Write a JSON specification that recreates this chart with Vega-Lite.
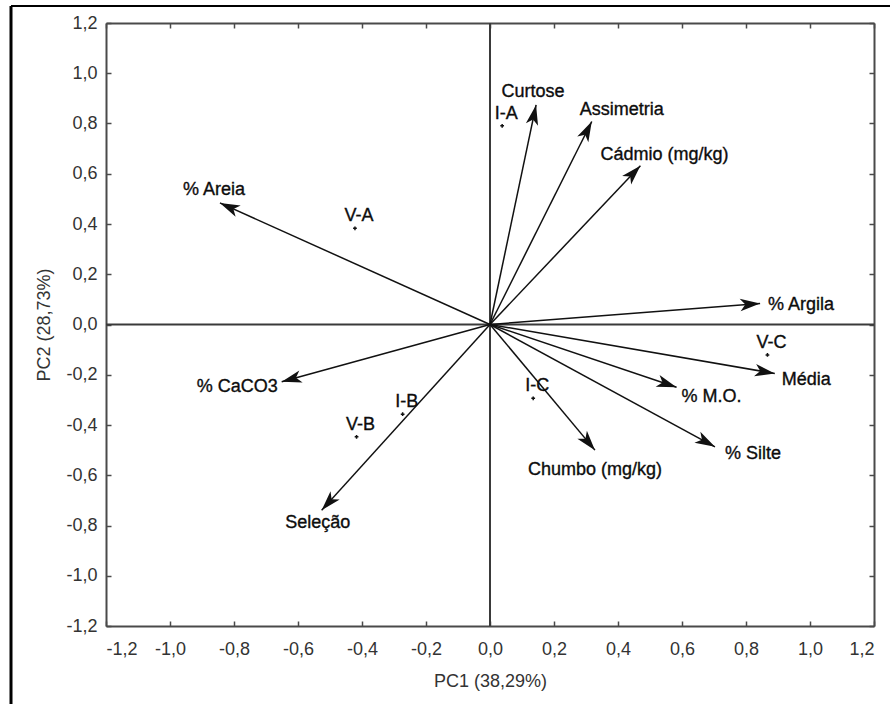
{
  "$schema": "https://vega.github.io/schema/vega-lite/v6.json",
  "width": 879,
  "height": 698,
  "autosize": {"type": "none"},
  "padding": {"left": 11, "top": 6, "right": 0, "bottom": 0},
  "background": "white",
  "datasets": {
    "arrows": [
      {"name": "Curtose", "x": 0.144, "y": 0.874},
      {"name": "Assimetria", "x": 0.318, "y": 0.808},
      {"name": "Cádmio (mg/kg)", "x": 0.47, "y": 0.632},
      {"name": "% Areia", "x": -0.844, "y": 0.484},
      {"name": "% Argila", "x": 0.844, "y": 0.084},
      {"name": "Média", "x": 0.89, "y": -0.195},
      {"name": "% M.O.", "x": 0.583, "y": -0.25},
      {"name": "% Silte", "x": 0.703, "y": -0.487},
      {"name": "Chumbo (mg/kg)", "x": 0.328, "y": -0.5},
      {"name": "Seleção", "x": -0.526, "y": -0.739},
      {"name": "% CaCO3", "x": -0.651, "y": -0.228}
    ],
    "points": [
      {"name": "I-A", "x": 0.038, "y": 0.791},
      {"name": "V-A", "x": -0.422, "y": 0.383},
      {"name": "V-B", "x": -0.417, "y": -0.447},
      {"name": "I-B", "x": -0.273, "y": -0.357},
      {"name": "I-C", "x": 0.135, "y": -0.294},
      {"name": "V-C", "x": 0.867, "y": -0.121}
    ]
  },
  "config": {
    "view": {"stroke": null},
    "font": "Liberation Sans",
    "axis": {
      "grid": false,
      "domainColor": "#4a4a4a",
      "domainWidth": 2,
      "tickColor": "#4a4a4a",
      "tickWidth": 1.5,
      "tickSize": -5,
      "labelFontSize": 18,
      "labelColor": "#333333",
      "titleFontSize": 18,
      "titleFontWeight": "normal",
      "titleColor": "#333333"
    },
    "text": {"fontSize": 18, "fill": "#0d0d0d", "stroke": "#0d0d0d", "strokeWidth": 0.35, "baseline": "middle"}
  },
  "layer": [
    {
      "layer": [
        {
          "data": {"values": [{}]},
          "mark": {"type": "rule", "stroke": "#3a3a3a", "strokeWidth": 2},
          "encoding": {
            "x": {
              "datum": -1.2, "type": "quantitative",
              "scale": {"domain": [-1.2, 1.2], "range": [95, 863], "nice": false, "zero": false},
              "axis": {
                "orient": "bottom", "offset": -78,
                "values": [-1.2, -1.0, -0.8, -0.6, -0.4, -0.2, 0, 0.2, 0.4, 0.6, 0.8, 1.0, 1.2],
                "labelExpr": "(datum.value < 0 ? '-' : '') + replace(format(abs(datum.value), '.1f'), '.', ',')",
                "labelPadding": 19,
                "title": "PC1 (38,29%)",
                "titlePadding": 14
              }
            },
            "x2": {"datum": 1.2},
            "y": {
              "datum": 0, "type": "quantitative",
              "scale": {"domain": [-1.2, 1.2], "range": [620, 17], "nice": false, "zero": false},
              "axis": {
                "orient": "left", "offset": -95,
                "values": [-1.2, -1.0, -0.8, -0.6, -0.4, -0.2, 0, 0.2, 0.4, 0.6, 0.8, 1.0, 1.2],
                "labelExpr": "(datum.value < 0 ? '-' : '') + replace(format(abs(datum.value), '.1f'), '.', ',')",
                "labelPadding": 14,
                "title": "PC2 (28,73%)",
                "titlePadding": 12
              }
            }
          }
        },
        {
          "data": {"values": [{}]},
          "mark": {"type": "rule", "stroke": "#3a3a3a", "strokeWidth": 2},
          "encoding": {
            "x": {
              "datum": 0, "type": "quantitative",
              "scale": {"domain": [-1.2, 1.2], "range": [95, 863], "nice": false, "zero": false},
              "axis": {
                "orient": "top", "offset": -17,
                "values": [-1.2, -1.0, -0.8, -0.6, -0.4, -0.2, 0, 0.2, 0.4, 0.6, 0.8, 1.0, 1.2],
                "labels": false, "title": null
              }
            },
            "y": {
              "datum": -1.2, "type": "quantitative",
              "scale": {"domain": [-1.2, 1.2], "range": [620, 17], "nice": false, "zero": false},
              "axis": {
                "orient": "right", "offset": -16,
                "values": [-1.2, -1.0, -0.8, -0.6, -0.4, -0.2, 0, 0.2, 0.4, 0.6, 0.8, 1.0, 1.2],
                "labels": false, "title": null
              }
            },
            "y2": {"datum": 1.2}
          }
        },
        {
          "data": {"name": "arrows"},
          "mark": {"type": "rule", "stroke": "#111111", "strokeWidth": 1.5},
          "encoding": {
            "x": {"field": "x", "type": "quantitative", "scale": {"domain": [-1.2, 1.2], "range": [95, 863], "nice": false, "zero": false}, "axis": null},
            "x2": {"datum": 0},
            "y": {"field": "y", "type": "quantitative", "scale": {"domain": [-1.2, 1.2], "range": [620, 17], "nice": false, "zero": false}, "axis": null},
            "y2": {"datum": 0}
          }
        },
        {
          "data": {"name": "arrows"},
          "mark": {
            "type": "point",
            "shape": "M0,0L-0.31,1L0,0.74L0.31,1Z",
            "size": 1600,
            "filled": true,
            "fill": "#111111",
            "opacity": 1,
            "strokeWidth": 0,
            "angle": {"expr": "atan2(datum.x * 320, datum.y * 251.25) * 180 / PI"}
          },
          "encoding": {
            "x": {"field": "x", "type": "quantitative", "scale": {"domain": [-1.2, 1.2], "range": [95, 863], "nice": false, "zero": false}, "axis": null},
            "y": {"field": "y", "type": "quantitative", "scale": {"domain": [-1.2, 1.2], "range": [620, 17], "nice": false, "zero": false}, "axis": null}
          }
        },
        {
          "data": {"name": "points"},
          "mark": {"type": "point", "shape": "cross", "size": 14, "filled": true, "fill": "#111111", "opacity": 1},
          "encoding": {
            "x": {"field": "x", "type": "quantitative", "scale": {"domain": [-1.2, 1.2], "range": [95, 863], "nice": false, "zero": false}, "axis": null},
            "y": {"field": "y", "type": "quantitative", "scale": {"domain": [-1.2, 1.2], "range": [620, 17], "nice": false, "zero": false}, "axis": null}
          }
        },
        {
          "data": {"name": "points"},
          "mark": {"type": "text", "align": "center", "dx": 4, "dy": -12},
          "encoding": {
            "x": {"field": "x", "type": "quantitative", "scale": {"domain": [-1.2, 1.2], "range": [95, 863], "nice": false, "zero": false}, "axis": null},
            "y": {"field": "y", "type": "quantitative", "scale": {"domain": [-1.2, 1.2], "range": [620, 17], "nice": false, "zero": false}, "axis": null},
            "text": {"field": "name"}
          }
        },
        {
          "data": {"name": "arrows"},
          "transform": [{"filter": {"field": "name", "equal": "Curtose"}}],
          "mark": {"type": "text", "align": "center", "dx": -3, "dy": -13},
          "encoding": {
            "x": {"field": "x", "type": "quantitative", "scale": {"domain": [-1.2, 1.2], "range": [95, 863], "nice": false, "zero": false}, "axis": null},
            "y": {"field": "y", "type": "quantitative", "scale": {"domain": [-1.2, 1.2], "range": [620, 17], "nice": false, "zero": false}, "axis": null},
            "text": {"field": "name"}
          }
        },
        {
          "data": {"name": "arrows"},
          "transform": [{"filter": {"field": "name", "equal": "Assimetria"}}],
          "mark": {"type": "text", "align": "left", "dx": -12, "dy": -11},
          "encoding": {
            "x": {"field": "x", "type": "quantitative", "scale": {"domain": [-1.2, 1.2], "range": [95, 863], "nice": false, "zero": false}, "axis": null},
            "y": {"field": "y", "type": "quantitative", "scale": {"domain": [-1.2, 1.2], "range": [620, 17], "nice": false, "zero": false}, "axis": null},
            "text": {"field": "name"}
          }
        },
        {
          "data": {"name": "arrows"},
          "transform": [{"filter": {"field": "name", "equal": "Cádmio (mg/kg)"}}],
          "mark": {"type": "text", "align": "left", "dx": -40, "dy": -11},
          "encoding": {
            "x": {"field": "x", "type": "quantitative", "scale": {"domain": [-1.2, 1.2], "range": [95, 863], "nice": false, "zero": false}, "axis": null},
            "y": {"field": "y", "type": "quantitative", "scale": {"domain": [-1.2, 1.2], "range": [620, 17], "nice": false, "zero": false}, "axis": null},
            "text": {"field": "name"}
          }
        },
        {
          "data": {"name": "arrows"},
          "transform": [{"filter": {"field": "name", "equal": "% Areia"}}],
          "mark": {"type": "text", "align": "left", "dx": -37, "dy": -13},
          "encoding": {
            "x": {"field": "x", "type": "quantitative", "scale": {"domain": [-1.2, 1.2], "range": [95, 863], "nice": false, "zero": false}, "axis": null},
            "y": {"field": "y", "type": "quantitative", "scale": {"domain": [-1.2, 1.2], "range": [620, 17], "nice": false, "zero": false}, "axis": null},
            "text": {"field": "name"}
          }
        },
        {
          "data": {"name": "arrows"},
          "transform": [{"filter": {"field": "name", "equal": "% Argila"}}],
          "mark": {"type": "text", "align": "left", "dx": 8, "dy": 2},
          "encoding": {
            "x": {"field": "x", "type": "quantitative", "scale": {"domain": [-1.2, 1.2], "range": [95, 863], "nice": false, "zero": false}, "axis": null},
            "y": {"field": "y", "type": "quantitative", "scale": {"domain": [-1.2, 1.2], "range": [620, 17], "nice": false, "zero": false}, "axis": null},
            "text": {"field": "name"}
          }
        },
        {
          "data": {"name": "arrows"},
          "transform": [{"filter": {"field": "name", "equal": "Média"}}],
          "mark": {"type": "text", "align": "left", "dx": 7, "dy": 7},
          "encoding": {
            "x": {"field": "x", "type": "quantitative", "scale": {"domain": [-1.2, 1.2], "range": [95, 863], "nice": false, "zero": false}, "axis": null},
            "y": {"field": "y", "type": "quantitative", "scale": {"domain": [-1.2, 1.2], "range": [620, 17], "nice": false, "zero": false}, "axis": null},
            "text": {"field": "name"}
          }
        },
        {
          "data": {"name": "arrows"},
          "transform": [{"filter": {"field": "name", "equal": "% M.O."}}],
          "mark": {"type": "text", "align": "left", "dx": 5, "dy": 10},
          "encoding": {
            "x": {"field": "x", "type": "quantitative", "scale": {"domain": [-1.2, 1.2], "range": [95, 863], "nice": false, "zero": false}, "axis": null},
            "y": {"field": "y", "type": "quantitative", "scale": {"domain": [-1.2, 1.2], "range": [620, 17], "nice": false, "zero": false}, "axis": null},
            "text": {"field": "name"}
          }
        },
        {
          "data": {"name": "arrows"},
          "transform": [{"filter": {"field": "name", "equal": "% Silte"}}],
          "mark": {"type": "text", "align": "left", "dx": 10, "dy": 7},
          "encoding": {
            "x": {"field": "x", "type": "quantitative", "scale": {"domain": [-1.2, 1.2], "range": [95, 863], "nice": false, "zero": false}, "axis": null},
            "y": {"field": "y", "type": "quantitative", "scale": {"domain": [-1.2, 1.2], "range": [620, 17], "nice": false, "zero": false}, "axis": null},
            "text": {"field": "name"}
          }
        },
        {
          "data": {"name": "arrows"},
          "transform": [{"filter": {"field": "name", "equal": "Chumbo (mg/kg)"}}],
          "mark": {"type": "text", "align": "center", "dx": 0, "dy": 20},
          "encoding": {
            "x": {"field": "x", "type": "quantitative", "scale": {"domain": [-1.2, 1.2], "range": [95, 863], "nice": false, "zero": false}, "axis": null},
            "y": {"field": "y", "type": "quantitative", "scale": {"domain": [-1.2, 1.2], "range": [620, 17], "nice": false, "zero": false}, "axis": null},
            "text": {"field": "name"}
          }
        },
        {
          "data": {"name": "arrows"},
          "transform": [{"filter": {"field": "name", "equal": "Seleção"}}],
          "mark": {"type": "text", "align": "center", "dx": -4, "dy": 13},
          "encoding": {
            "x": {"field": "x", "type": "quantitative", "scale": {"domain": [-1.2, 1.2], "range": [95, 863], "nice": false, "zero": false}, "axis": null},
            "y": {"field": "y", "type": "quantitative", "scale": {"domain": [-1.2, 1.2], "range": [620, 17], "nice": false, "zero": false}, "axis": null},
            "text": {"field": "name"}
          }
        },
        {
          "data": {"name": "arrows"},
          "transform": [{"filter": {"field": "name", "equal": "% CaCO3"}}],
          "mark": {"type": "text", "align": "right", "dx": -4, "dy": 5},
          "encoding": {
            "x": {"field": "x", "type": "quantitative", "scale": {"domain": [-1.2, 1.2], "range": [95, 863], "nice": false, "zero": false}, "axis": null},
            "y": {"field": "y", "type": "quantitative", "scale": {"domain": [-1.2, 1.2], "range": [620, 17], "nice": false, "zero": false}, "axis": null},
            "text": {"field": "name"}
          }
        }
      ],
      "resolve": {"axis": {"x": "independent", "y": "independent"}}
    },
    {
      "data": {"values": [{}]},
      "mark": {"type": "rule", "stroke": "#000000", "strokeWidth": 3},
      "encoding": {
        "x": {"datum": 0, "type": "quantitative", "scale": {"domain": [0, 1]}, "axis": null}
      }
    },
    {
      "data": {"values": [{}]},
      "mark": {"type": "rule", "stroke": "#000000", "strokeWidth": 2},
      "encoding": {
        "y": {"datum": 1, "type": "quantitative", "scale": {"domain": [0, 1]}, "axis": null}
      }
    }
  ],
  "resolve": {"scale": {"x": "independent", "y": "independent"}}
}
